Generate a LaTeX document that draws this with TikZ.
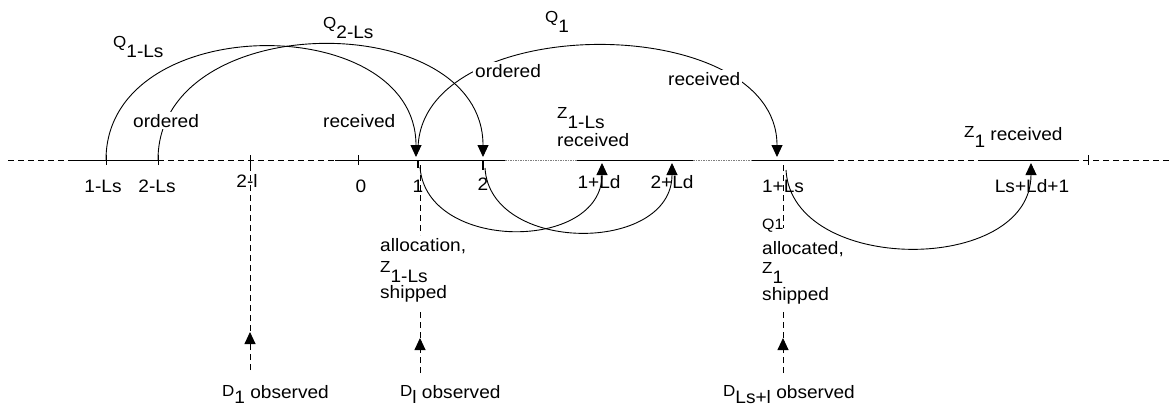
\documentclass[tikz,border=0pt]{standalone}
\usepackage{fontspec}
\setmainfont{Liberation Sans}[FakeStretch=1.06]
\usetikzlibrary{arrows.meta}
\newcommand{\lsb}[2]{\raisebox{3pt}{\fontsize{16}{16}\selectfont #1}\raisebox{-7pt}{#2}}
\newcommand{\lsbd}[2]{\raisebox{2pt}{\fontsize{16}{16}\selectfont #1}\raisebox{-5pt}{#2}}
\tikzset{
  lbl/.style={inner sep=0pt, anchor=base west, font=\fontsize{18}{22}\selectfont},
  albl/.style={inner sep=0pt, anchor=base, font=\fontsize{18}{22}\selectfont},
  cut/.style={lbl, fill=white, inner sep=2pt},
  ax/.style={line width=0.9pt},
  axdash/.style={line width=0.9pt, dash pattern=on 6pt off 4pt},
  axdot/.style={line width=0.9pt, gray, dash pattern=on 1.5pt off 1pt},
  arcline/.style={line width=0.9pt},
  tip/.style={-{Triangle[width=11pt,length=12pt]}},
  vdash/.style={line width=0.9pt, dash pattern=on 6pt off 4pt},
}
\begin{document}
\begin{tikzpicture}[x=1pt,y=-1pt]
\useasboundingbox (0,0) rectangle (1172,408);
% axis points
\coordinate (aL) at (8,160);
\coordinate (p1) at (68,160);
\coordinate (t1) at (106,160);
\coordinate (t2) at (158,160);
\coordinate (tl) at (250,160);
\coordinate (p3) at (335,160);
\coordinate (t0) at (358,160);
\coordinate (tone) at (418,160);
\coordinate (ttwo) at (483,160);
\coordinate (p5) at (505,160);
\coordinate (p6) at (577,160);
\coordinate (tld1) at (602,163);
\coordinate (tld2) at (672,163);
\coordinate (p7) at (693,160);
\coordinate (p8) at (752,160);
\coordinate (tls) at (783,160);
\coordinate (p9) at (828,160);
\coordinate (p10) at (983,160);
\coordinate (tz) at (1031,163);
\coordinate (p11) at (1073,160);
\coordinate (tend) at (1088,160);
\coordinate (aR) at (1172,160);
% axis
\draw[axdash] (aL) -- (p1);
\draw[ax] (p1) -- (t2);
\draw[axdash] (t2) -- (p3);
\draw[ax] (p3) -- (p5);
\draw[axdot] (p5) -- (p6);
\draw[ax] (p6) -- (p7);
\draw[axdot] (p7) -- (p8);
\draw[ax] (p8) -- (p9);
\draw[axdash] (p9) -- (p10);
\draw[ax] (p10) -- (p11);
\draw[axdash] (p11) -- (aR);
% ticks
\foreach \c in {t1,t2,tl,t0,tend}{\draw[ax] ([yshift=5pt]\c) -- ([yshift=-5pt]\c);}
\draw[line width=1.6pt] (tone) -- ++(0,8);
\draw[line width=1.6pt] (ttwo) -- ++(0,10);
% upper arcs
\coordinate (r1) at (416,157);
\coordinate (r2) at (483,157);
\coordinate (r3) at (777,157);
\coordinate (s1) at (418,150);
\draw[arcline,tip] (t1) .. controls (106,10) and (416,10) .. (r1);
\draw[arcline,tip] (t2) .. controls (158,7) and (483,7) .. (r2);
\draw[arcline,tip] (s1) .. controls (418,10) and (777,10) .. (r3);
% lower arcs
\coordinate (la) at (420,167);
\coordinate (lb) at (485,168);
\coordinate (lc) at (786,170);
\draw[arcline,tip] (la) .. controls (426,252) and (602,252) .. (tld1);
\draw[arcline,tip] (lb) .. controls (490,254) and (672,254) .. (tld2);
\draw[arcline,tip] (lc) .. controls (792,275) and (1031,275) .. (tz);
% vertical dashed lines
\coordinate (d1a) at (250,165);
\coordinate (d1tip) at (250,332);
\coordinate (d1b) at (250,370);
\draw[vdash] (d1a) -- (d1tip);
\draw[vdash,tip] (d1b) -- (d1tip);
\coordinate (dla) at (420,165);
\coordinate (dlb) at (420,235);
\coordinate (dlc) at (420,312);
\coordinate (dltip) at (420,338);
\coordinate (dld) at (420,373);
\draw[vdash] (dla) -- (dlb);
\draw[vdash] (dlc) -- (dltip);
\draw[vdash,tip] (dld) -- (dltip);
\coordinate (dsa) at (783,165);
\coordinate (dsb) at (783,228);
\coordinate (dsc) at (783,312);
\coordinate (dstip) at (783,338);
\coordinate (dsd) at (783,373);
\draw[vdash] (dsa) -- (dsb);
\draw[vdash] (dsc) -- (dstip);
\draw[vdash,tip] (dsd) -- (dstip);
% upper labels
\node[lbl] (q1ls) at (113,50) {\lsb{Q}{1-Ls}};
\node[lbl] (q2ls) at (323,31) {\lsb{Q}{2-Ls}};
\node[lbl] (qone) at (545,25) {\lsb{Q}{1}};
\node[cut] (ord1) at (131,127) {ordered};
\node[lbl] (rec1) at (323,127) {received};
\node[cut] (ord2) at (473,77) {ordered};
\node[cut] (rec2) at (666,85) {received};
\node[lbl] (z1ls) at (557,121) {\lsb{Z}{1-Ls}};
\node[lbl] (z1rec) at (557,146) {received};
\node[lbl] (z1r) at (964,140) {\lsb{Z}{1} received};
% axis labels
\node[albl] (l1) at (103,192) {1-Ls};
\node[albl] (l2) at (157,192) {2-Ls};
\node[albl] (l3) at (247,187) {2-l};
\node[albl] (l4) at (361,192) {0};
\node[albl] (l5) at (418,192) {1};
\node[albl] (l6) at (483,190) {2};
\node[albl] (l7) at (599,188) {1+Ld};
\node[albl] (l8) at (672,188) {2+Ld};
\node[albl] (l9) at (783,192) {1+Ls};
\node[albl] (l10) at (1032,192) {Ls+Ld+1};
% lower labels
\node[lbl] (alloc) at (380,251) {allocation,};
\node[lbl] (zls2) at (380,275) {\lsb{Z}{1-Ls}};
\node[lbl] (ship1) at (380,298) {shipped};
\node[lbl] (qq) at (762,229) {{\fontsize{15}{15}\selectfont Q1}};
\node[lbl] (allocd) at (762,254) {allocated,};
\node[lbl] (z1b) at (762,276) {\lsb{Z}{1}};
\node[lbl] (ship2) at (762,300) {shipped};
\node[lbl] (dobs1) at (222,398) {\lsbd{D}{1} observed};
\node[lbl] (dobs2) at (400,398) {\lsbd{D}{l} observed};
\node[lbl] (dobs3) at (723,398) {\lsbd{D}{Ls+l} observed};
\end{tikzpicture}
\end{document}
